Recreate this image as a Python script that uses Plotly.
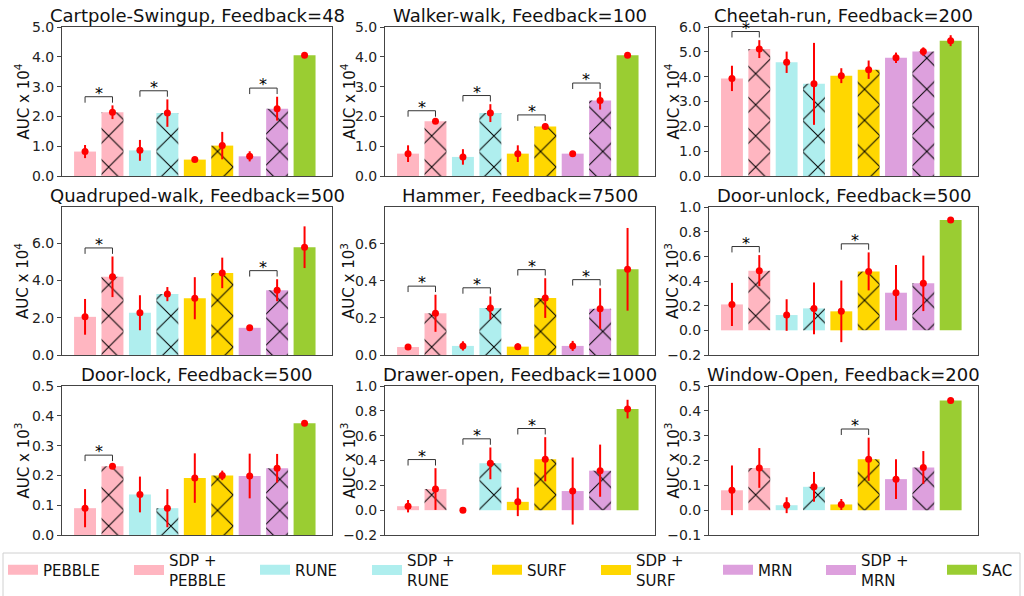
import plotly.graph_objects as go

# ---------------- data ----------------
methods = ["PEBBLE", "SDP + PEBBLE", "RUNE", "SDP + RUNE", "SURF", "SDP + SURF", "MRN", "SDP + MRN", "SAC"]
legend_labels = ["PEBBLE", "SDP +<br>PEBBLE", "RUNE", "SDP +<br>RUNE", "SURF", "SDP +<br>SURF",
                 "MRN", "SDP +<br>MRN", "SAC"]
colors = ["#FFB6C1", "#FFB6C1", "#AFEEEE", "#AFEEEE", "#FFD700", "#FFD700", "#DDA0DD", "#DDA0DD", "#9ACD32"]
hatched = [False, True, False, True, False, True, False, True, False]

titles = ["Cartpole-Swingup, Feedback=48", "Walker-walk, Feedback=100", "Cheetah-run, Feedback=200",
          "Quadruped-walk, Feedback=500", "Hammer, Feedback=7500", "Door-unlock, Feedback=500",
          "Door-lock, Feedback=500", "Drawer-open, Feedback=1000", "Window-Open, Feedback=200"]
ylabels = ["AUC x 10<sup>4</sup>"] * 4 + ["AUC x 10<sup>3</sup>"] * 5

cartpole_mean = [0.82, 2.14, 0.86, 2.11, 0.55, 1.02, 0.66, 2.26, 4.05]
cartpole_err = [0.22, 0.23, 0.35, 0.46, 0.03, 0.46, 0.17, 0.40, 0.02]
walker_mean = [0.75, 1.84, 0.64, 2.11, 0.75, 1.66, 0.75, 2.53, 4.05]
walker_err = [0.28, 0.06, 0.26, 0.30, 0.28, 0.10, 0.05, 0.30, 0.02]
cheetah_mean = [3.93, 5.11, 4.58, 3.71, 4.04, 4.28, 4.76, 5.01, 5.45]
cheetah_err = [0.51, 0.36, 0.43, 1.65, 0.30, 0.37, 0.21, 0.17, 0.22]
quadruped_mean = [2.05, 4.20, 2.27, 3.27, 3.05, 4.41, 1.46, 3.48, 5.79]
quadruped_err = [0.96, 1.09, 0.94, 0.38, 1.13, 0.82, 0.08, 0.59, 1.12]
hammer_mean = [0.043, 0.225, 0.049, 0.254, 0.045, 0.307, 0.049, 0.250, 0.462]
hammer_err = [0.010, 0.100, 0.025, 0.062, 0.018, 0.107, 0.027, 0.110, 0.223]
doorunlock_mean = [0.21, 0.484, 0.124, 0.178, 0.154, 0.478, 0.305, 0.381, 0.895]
doorunlock_err = [0.175, 0.126, 0.128, 0.21, 0.25, 0.154, 0.225, 0.225, 0.005]
doorlock_mean = [0.090, 0.231, 0.136, 0.090, 0.191, 0.200, 0.198, 0.224, 0.375]
doorlock_err = [0.064, 0.008, 0.060, 0.064, 0.083, 0.016, 0.075, 0.048, 0.003]
drawer_mean = [0.032, 0.170, 0.0, 0.377, 0.067, 0.410, 0.154, 0.318, 0.814]
drawer_err = [0.050, 0.168, 0.0, 0.128, 0.115, 0.178, 0.270, 0.210, 0.075]
window_mean = [0.080, 0.170, 0.020, 0.094, 0.023, 0.205, 0.125, 0.172, 0.442]
window_err = [0.100, 0.080, 0.032, 0.060, 0.022, 0.087, 0.080, 0.066, 0.003]

means = [cartpole_mean, walker_mean, cheetah_mean, quadruped_mean, hammer_mean,
         doorunlock_mean, doorlock_mean, drawer_mean, window_mean]
errs = [cartpole_err, walker_err, cheetah_err, quadruped_err, hammer_err,
        doorunlock_err, doorlock_err, drawer_err, window_err]

significant_pairs = [
    [(0, 1), (2, 3), (6, 7)],
    [(0, 1), (2, 3), (4, 5), (6, 7)],
    [(0, 1)],
    [(0, 1), (6, 7)],
    [(0, 1), (2, 3), (4, 5), (6, 7)],
    [(0, 1), (4, 5)],
    [(0, 1)],
    [(0, 1), (2, 3), (4, 5)],
    [(4, 5)],
]

y_ranges = [[0, 5], [0, 5], [0, 6], [0, 7.95], [0, 0.798], [-0.2, 1.0], [0, 0.5], [-0.2, 1.0], [-0.1, 0.5]]
y_ticks = [
    [0, 1, 2, 3, 4, 5],
    [0, 1, 2, 3, 4, 5],
    [0, 1, 2, 3, 4, 5, 6],
    [0, 2, 4, 6],
    [0, 0.2, 0.4, 0.6],
    [-0.2, 0, 0.2, 0.4, 0.6, 0.8, 1.0],
    [0, 0.1, 0.2, 0.3, 0.4, 0.5],
    [-0.2, 0, 0.2, 0.4, 0.6, 0.8, 1.0],
    [-0.1, 0, 0.1, 0.2, 0.3, 0.4, 0.5],
]

# ---------------- layout geometry ----------------
W, H = 1024, 596
col_px = [(62, 332), (385, 655), (709, 978)]
row_px = [(27, 176), (207, 355), (386, 535)]
ylabel_x_px = [22, 348, 672]
legend_x_px = [3, 129, 255, 367, 487, 596, 718, 821, 942]
legend_y_px = 570

FONT = "DejaVu Sans"
fig = go.Figure()
layout = dict(
    width=W, height=H,
    margin=dict(l=0, r=0, t=0, b=0),
    paper_bgcolor="white", plot_bgcolor="white",
    barmode="overlay",
    font=dict(family=FONT, size=14, color="#222"),
    showlegend=True,
    annotations=[], shapes=[],
)

# legend entries: one small legend per entry so every entry is centred like the reference
for i in range(9):
    lg = "legend" if i == 0 else f"legend{i + 1}"
    fig.add_trace(go.Scatter(
        x=[None], y=[None], mode="lines", name=legend_labels[i], legendgroup=methods[i],
        line=dict(color=colors[i], width=10), showlegend=True, xaxis="x", yaxis="y", legend=lg,
    ))
    layout[lg] = dict(
        orientation="h", x=legend_x_px[i] / W, y=1 - legend_y_px / H, xanchor="left", yanchor="middle",
        borderwidth=0, font=dict(size=15, color="#111"), itemwidth=30,
        bgcolor="rgba(0,0,0,0)", valign="middle",
    )

for k in range(9):
    r, c = divmod(k, 3)
    n = "" if k == 0 else str(k + 1)
    xa, ya = "x" + n, "y" + n
    x0p, x1p = col_px[c]
    y0p, y1p = row_px[r]
    xdom = [x0p / W, x1p / W]
    ydom = [1 - y1p / H, 1 - y0p / H]
    layout["xaxis" + n] = dict(domain=xdom, anchor=ya, range=[-0.84, 9.0], showticklabels=False,
                               ticks="", showgrid=False, zeroline=False, showline=True, mirror=True,
                               linecolor="#444", linewidth=1, automargin=False, fixedrange=True)
    layout["yaxis" + n] = dict(domain=ydom, anchor=xa, range=y_ranges[k], tickvals=y_ticks[k],
                               tickformat=".1f", ticks="outside", ticklen=4, tickcolor="#444",
                               showgrid=False, zeroline=False, showline=True, mirror=True,
                               linecolor="#444", linewidth=1, automargin=False,
                               tickfont=dict(size=14, color="#222"), fixedrange=True)

    m, e = means[k], errs[k]
    for i in range(9):
        pattern = dict(shape="x", fillmode="replace", bgcolor=colors[i], fgcolor="black",
                       size=22, solidity=0.09) if hatched[i] else dict(shape="")
        fig.add_trace(go.Bar(
            x=[i], y=[m[i]], width=0.8, name=methods[i], legendgroup=methods[i],
            showlegend=False, xaxis=xa, yaxis=ya,
            marker=dict(color=colors[i], line=dict(width=0), pattern=pattern),
        ))
    fig.add_trace(go.Scatter(
        x=list(range(9)), y=m, mode="markers", xaxis=xa, yaxis=ya, showlegend=False,
        marker=dict(color="red", size=7),
        error_y=dict(type="data", array=e, visible=True, color="red", thickness=2, width=0),
    ))

    span = y_ranges[k][1] - y_ranges[k][0]
    for a, b in significant_pairs[k]:
        top = max(m[a] + e[a], m[b] + e[b]) + 0.058 * span
        drop = 0.04 * span
        layout["shapes"].append(dict(
            type="path", xref=xa, yref=ya,
            path=f"M {a},{top - drop} L {a},{top} L {b},{top} L {b},{top - drop}",
            line=dict(color="#333", width=1),
        ))
        layout["annotations"].append(dict(
            x=(a + b) / 2, y=top, xref=xa, yref=ya, text="*", showarrow=False,
            yanchor="bottom", xanchor="center", yshift=-8, font=dict(size=16, color="black"),
        ))

    # subplot title
    layout["annotations"].append(dict(
        x=(xdom[0] + xdom[1]) / 2, y=ydom[1], xref="paper", yref="paper", text=titles[k],
        showarrow=False, xanchor="center", yanchor="bottom", yshift=-1,
        font=dict(size=18, color="#111"),
    ))
    # y-axis label
    layout["annotations"].append(dict(
        x=ylabel_x_px[c] / W, y=(ydom[0] + ydom[1]) / 2, xref="paper", yref="paper",
        text=ylabels[k], showarrow=False, textangle=-90, xanchor="center", yanchor="middle",
        font=dict(size=15, color="#111"),
    ))

# legend frame (extends past the bottom edge, as in the reference)
layout["shapes"].append(dict(
    type="rect", xref="paper", yref="paper", x0=3 / W, x1=1020 / W, y0=-0.05, y1=1 - 553 / H,
    line=dict(color="#d0d0d0", width=1), fillcolor="rgba(0,0,0,0)", layer="below",
))

fig.update_layout(**layout)
fig.write_html("out.html", config={"displayModeBar": False})
